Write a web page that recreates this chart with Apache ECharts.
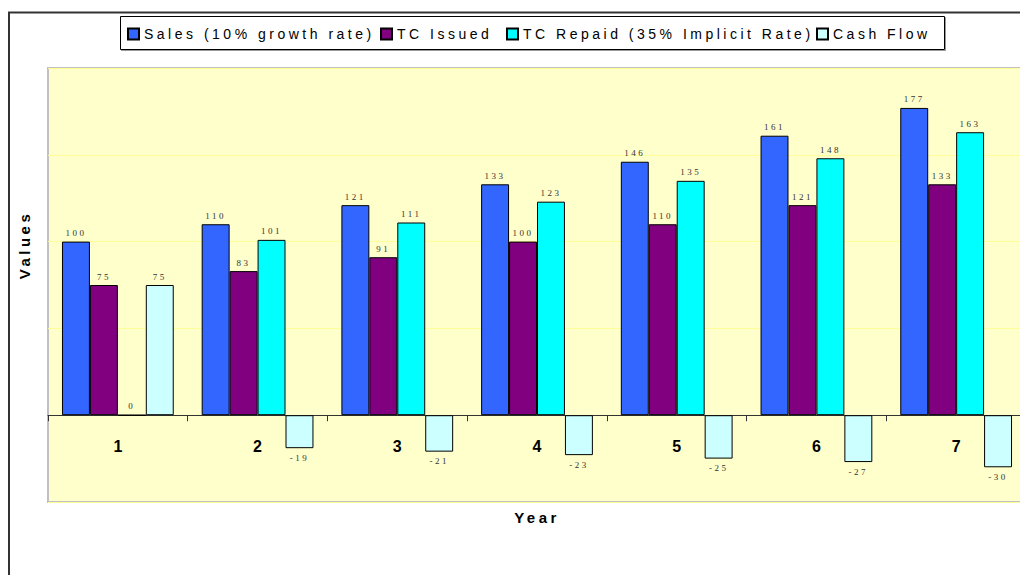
<!DOCTYPE html>
<html>
<head>
<meta charset="utf-8">
<script src="https://cdn.jsdelivr.net/npm/echarts@6/dist/echarts.min.js"></script>
<style>
  html, body { margin: 0; padding: 0; background: #fff; overflow: hidden; }
  #chart { width: 1020px; height: 575px; }
  /* spaced-out text like the original spreadsheet chart */
  #chart text[style*="Serif"] { letter-spacing: 2.5px; }
  #chart text[style*="14px"] { letter-spacing: 3.5px; }
  #chart text[style*="15px"] { letter-spacing: 3.5px; }
</style>
</head>
<body>
<div id="chart"></div>
<script>
// data
const years = ['1', '2', '3', '4', '5', '6', '7']
const seriesNames = ['Sales (10% growth rate)', 'TC Issued', 'TC Repaid (35% Implicit Rate)', 'Cash Flow']
const sales = [100, 110, 121, 133, 146, 161, 177]
const tcIssued = [75, 83, 91, 100, 110, 121, 133]
const tcRepaid = [0, 101, 111, 123, 135, 148, 163]
const cashFlow = [75, -19, -21, -23, -25, -27, -30]

const colors = ['#3366ff', '#800080', '#00ffff', '#ccffff']
const legendLeft = [127, 380, 506, 816]

const chart = echarts.init(document.getElementById('chart'), null, {renderer: 'svg'})

// bar series helper
const makeSeries = (name, values, color) => ({
  name,
  type: 'bar',
  barGap: '0%',
  barCategoryGap: '20%',
  itemStyle: {color, borderColor: '#000', borderWidth: 1},
  label: {
    show: true,
    position: 'top',
    distance: 4,
    fontFamily: 'Liberation Serif',
    fontSize: 9,
    color: '#333',
  },
  data: values.map((v) => (v < 0 ? {value: v, label: {position: 'bottom', distance: 5}} : v)),
  animation: false,
})

const option = {
  animation: false,
  graphic: [
    {type: 'line', z: 0, shape: {x1: 8, y1: 12.5, x2: 1020, y2: 12.5}, style: {stroke: '#333', lineWidth: 2}},
    {type: 'line', z: 0, shape: {x1: 9, y1: 12, x2: 9, y2: 575}, style: {stroke: '#333', lineWidth: 2}},
    {
      type: 'rect',
      z: 0,
      shape: {x: 120.5, y: 16.5, width: 824, height: 33},
      style: {fill: '#fff', stroke: '#000', lineWidth: 1, shadowOffsetX: 1, shadowOffsetY: 1, shadowColor: '#999', shadowBlur: 0},
    },
  ],
  legend: seriesNames.map((n, i) => ({
    data: [n],
    left: legendLeft[i],
    top: 27,
    padding: 0,
    icon: 'rect',
    itemWidth: 11,
    itemHeight: 11,
    textStyle: {fontFamily: 'Liberation Sans', fontSize: 14, color: '#000'},
  })),
  grid: {
    left: 48,
    top: 68,
    right: -6,
    height: 434,
    outerBoundsMode: 'none',
    containLabel: false,
    show: true,
    backgroundColor: '#ffffcc',
    borderColor: '#c0c0c0',
    borderWidth: 2,
  },
  xAxis: {
    type: 'category',
    data: years,
    name: 'Year',
    nameLocation: 'middle',
    nameGap: 8,
    nameTextStyle: {fontFamily: 'Liberation Sans', fontWeight: 'bold', fontSize: 15, color: '#000'},
    axisLine: {onZero: true, lineStyle: {color: '#333', width: 1}},
    axisTick: {show: true, length: 6, lineStyle: {color: '#333'}},
    axisLabel: {fontFamily: 'Liberation Sans', fontWeight: 'bold', fontSize: 16, color: '#000', margin: -64},
    splitLine: {show: false},
  },
  yAxis: {
    type: 'value',
    min: -50,
    max: 200,
    interval: 50,
    name: 'Values',
    nameLocation: 'middle',
    nameGap: 16,
    nameTextStyle: {
      fontFamily: 'Liberation Sans',
      fontWeight: 'bold',
      fontSize: 15,
      color: '#000',
      padding: [0, 0, 0, 80],
    },
    axisLine: {show: false},
    axisTick: {show: false},
    axisLabel: {show: false},
    splitLine: {lineStyle: {color: '#ffff99', width: 1}},
  },
  series: [
    makeSeries(seriesNames[0], sales, colors[0]),
    makeSeries(seriesNames[1], tcIssued, colors[1]),
    makeSeries(seriesNames[2], tcRepaid, colors[2]),
    makeSeries(seriesNames[3], cashFlow, colors[3]),
  ],
}

chart.setOption(option)
</script>
</body>
</html>
